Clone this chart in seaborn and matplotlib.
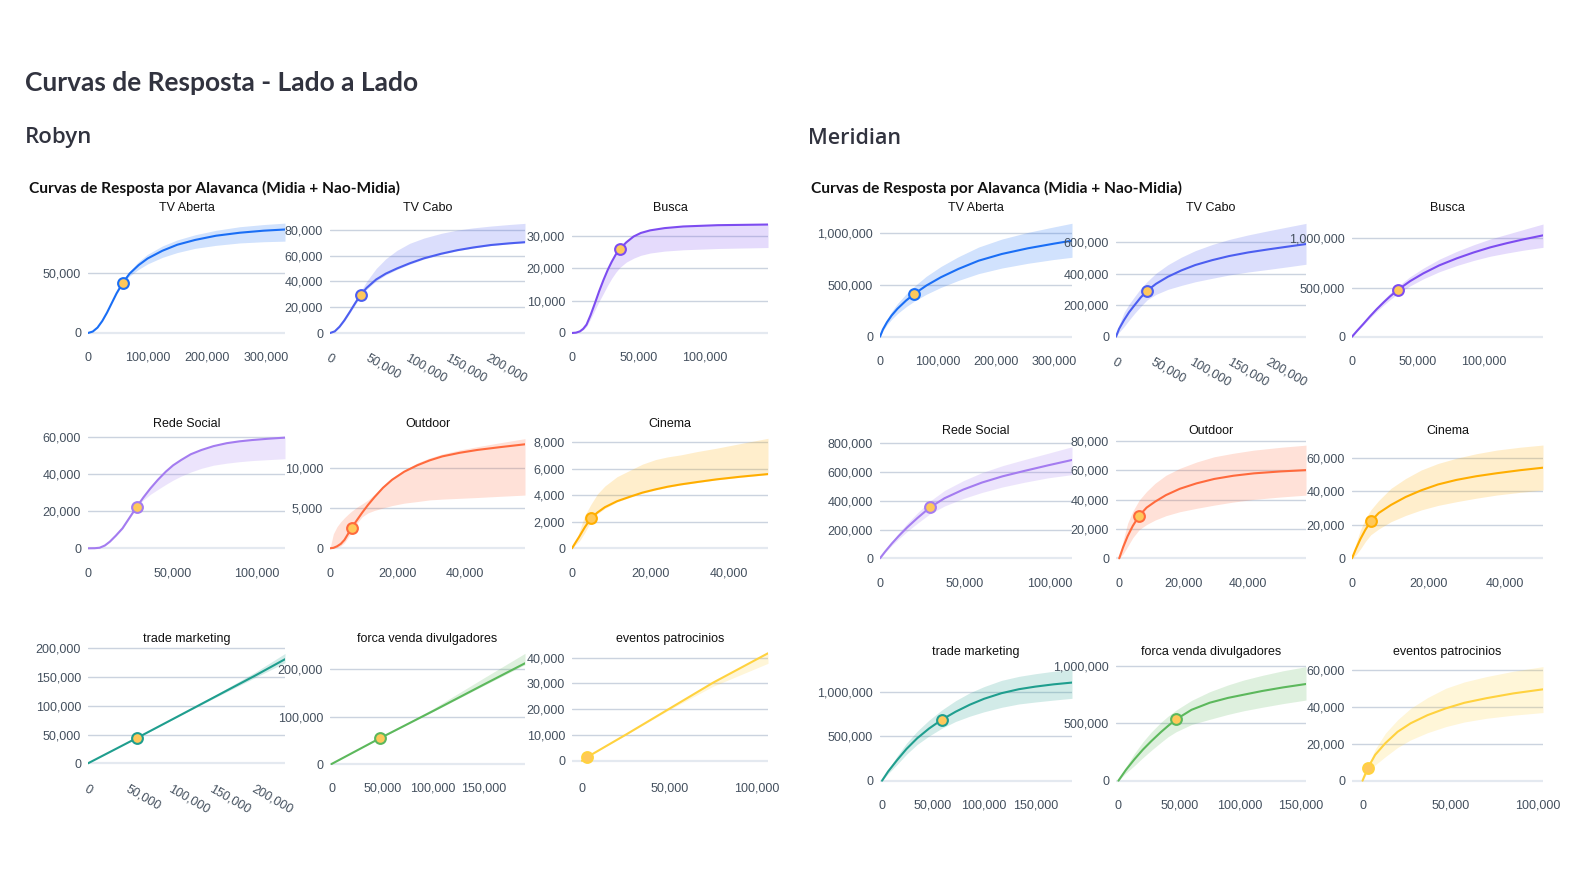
import matplotlib
matplotlib.use('Agg')
import matplotlib.pyplot as plt
import seaborn as sns

# ---------------- dados: Robyn ----------------
rb_aberta_x = [0, 8000, 16000, 24000, 32000, 40000, 48000, 58000, 70000, 85000, 100000, 125000, 150000, 180000, 215000, 255000, 295000, 331000]
rb_aberta_y = [0, 1200, 4500, 10000, 17000, 25000, 33000, 41500, 49500, 56500, 62000, 68500, 73500, 77500, 81000, 83500, 85200, 86200]
rb_aberta_lo = [0, 1200, 4500, 10000, 17000, 25000, 32500, 40700, 47500, 53000, 57500, 63000, 67000, 70500, 73000, 75000, 76000, 76500]
rb_aberta_hi = [0, 1200, 4500, 10000, 17000, 25000, 33000, 42300, 51500, 59500, 65500, 72500, 77500, 81800, 85500, 88500, 90300, 91500]

rb_cabo_x = [0, 6000, 12000, 18000, 25000, 32000, 38400, 46000, 58000, 70000, 84000, 100000, 118000, 140000, 160000, 180000, 202000, 225000, 245000]
rb_cabo_y = [0, 1300, 4900, 9800, 16500, 23500, 29500, 35000, 41500, 46000, 50000, 54000, 57900, 61500, 64200, 66300, 68200, 69500, 70400]
rb_cabo_lo = [0, 1100, 4400, 9000, 15500, 22300, 28300, 33800, 40300, 45000, 49200, 53300, 57300, 61000, 63800, 65900, 67800, 69100, 70000]
rb_cabo_hi = [0, 1500, 5400, 10800, 18000, 25500, 32000, 40000, 50000, 57500, 64000, 69500, 73600, 77300, 79800, 81500, 82900, 84100, 85000]

rb_busca_x = [0, 3000, 6000, 8500, 11000, 14000, 17400, 20500, 23800, 27000, 30000, 33000, 36000, 41000, 46500, 52000, 59000, 70000, 84000, 110000, 148000]
rb_busca_y = [0, 100, 500, 1300, 2600, 5500, 9300, 12900, 16400, 19500, 22000, 24200, 25900, 28000, 29800, 30900, 31700, 32400, 32900, 33300, 33500]
rb_busca_lo = [0, 80, 400, 1000, 2000, 4300, 7200, 9800, 12300, 14800, 16900, 18700, 20200, 21900, 23100, 24000, 24700, 25300, 25700, 26100, 26400]
rb_busca_hi = [0, 110, 550, 1400, 2700, 5700, 9500, 13100, 16600, 19700, 22200, 24400, 26100, 28200, 30000, 31100, 31900, 32600, 33100, 33500, 33700]

rb_social_x = [0, 4000, 6900, 10000, 13000, 16500, 20500, 24500, 29000, 33000, 37100, 41500, 46200, 50500, 55300, 61000, 67300, 74500, 82400, 90000, 97500, 107000, 117000]
rb_social_y = [0, 50, 300, 1500, 3600, 6800, 10800, 16300, 22500, 27600, 32400, 37000, 41400, 44800, 47700, 50800, 53100, 55200, 56800, 57800, 58500, 59200, 59800]
rb_social_lo = [0, 40, 250, 1400, 3400, 6500, 10400, 15800, 22200, 26200, 29200, 31800, 34500, 36800, 39000, 41200, 43200, 44900, 46000, 46800, 47400, 47900, 48400]
rb_social_hi = [0, 60, 350, 1600, 3800, 7100, 11200, 16700, 22900, 28000, 32800, 37400, 41800, 45200, 48100, 51100, 53400, 55500, 57100, 58100, 58800, 59500, 60100]

rb_outdoor_x = [0, 1000, 2100, 3200, 4300, 5300, 6400, 8000, 9500, 11300, 13200, 15700, 18400, 22000, 25900, 29500, 33300, 38500, 43700, 50500, 57800]
rb_outdoor_y = [0, 50, 250, 550, 1050, 1750, 2550, 3500, 4400, 5400, 6350, 7500, 8500, 9500, 10300, 10900, 11400, 11850, 12200, 12550, 12900]
rb_outdoor_lo = [0, 0, 100, 300, 700, 1300, 2000, 3100, 3900, 4400, 4700, 5000, 5300, 5600, 5800, 6000, 6100, 6200, 6300, 6450, 6600]
rb_outdoor_hi = [0, 1800, 2700, 3300, 3800, 4200, 4600, 5100, 5500, 6000, 6700, 7700, 8700, 9700, 10600, 11200, 11700, 12200, 12600, 13100, 13600]

rb_cinema_x = [0, 1000, 1900, 3300, 4800, 6500, 8400, 11500, 14900, 18000, 21400, 24500, 27800, 32000, 36900, 43000, 50100]
rb_cinema_y = [0, 480, 900, 1600, 2250, 2700, 3100, 3550, 3900, 4200, 4450, 4650, 4820, 5000, 5200, 5400, 5600]
rb_cinema_lo = [0, 300, 550, 1200, 2000, 2600, 3000, 3500, 3850, 4150, 4400, 4600, 4780, 4960, 5160, 5360, 5560]
rb_cinema_hi = [0, 500, 1300, 2500, 3300, 4100, 4700, 5400, 5900, 6350, 6700, 6900, 7050, 7300, 7550, 7900, 8300]

rb_trade_x = [0, 59000, 100000, 150000, 200000, 235000]
rb_trade_y = [0, 44500, 76000, 114500, 153000, 181000]
rb_trade_lo = [0, 44300, 75500, 113000, 149500, 175000]
rb_trade_hi = [0, 44700, 77000, 117500, 159000, 191000]

rb_forca_x = [0, 47500, 100000, 150000, 190600]
rb_forca_y = [0, 54300, 112000, 168000, 213000]
rb_forca_lo = [0, 54000, 111000, 166000, 210000]
rb_forca_hi = [0, 54600, 117000, 182000, 234000]

rb_eventos_x = [0, 2900, 25000, 50000, 75000, 106400]
rb_eventos_y = [0, 1400, 10100, 20200, 30300, 41700]
rb_eventos_lo = [0, 1400, 10000, 19800, 28900, 37800]
rb_eventos_hi = [0, 1400, 10150, 20300, 30400, 41900]

rb_ponto_x = [58000, 38400, 36000, 29000, 6400, 4800, 59000, 47500, 2900]
rb_ponto_y = [41500, 29500, 25900, 22500, 2550, 2250, 44500, 54300, 1400]

# ---------------- dados: Meridian ----------------
mr_aberta_x = [0, 5000, 12000, 20000, 30000, 45000, 59000, 80000, 105000, 135000, 170000, 210000, 255000, 300000, 331000]
mr_aberta_y = [0, 70000, 140000, 205000, 270000, 350000, 413000, 495000, 575000, 655000, 735000, 800000, 855000, 900000, 929000]
mr_aberta_lo = [0, 57000, 115000, 168000, 223000, 290000, 343000, 411000, 477000, 544000, 610000, 664000, 710000, 747000, 768000]
mr_aberta_hi = [0, 83000, 166000, 243000, 320000, 413000, 487000, 585000, 679000, 773000, 867000, 944000, 1009000, 1062000, 1097000]

mr_cabo_x = [0, 4000, 10500, 17000, 24000, 32000, 40400, 52000, 67500, 85000, 103000, 125000, 147000, 172000, 199000, 225000, 247000]
mr_cabo_y = [0, 50000, 106000, 155000, 199000, 248000, 291000, 335000, 380000, 420000, 454000, 485000, 511000, 534000, 554000, 572000, 587000]
mr_cabo_lo = [0, 28000, 64000, 105000, 147000, 191000, 233000, 268000, 300000, 325000, 348000, 370000, 391000, 410000, 427000, 444000, 459000]
mr_cabo_hi = [0, 75000, 154000, 206000, 253000, 305000, 349000, 402000, 456000, 504000, 545000, 584000, 616000, 645000, 672000, 697000, 718000]

mr_busca_x = [0, 4000, 8600, 13500, 18700, 24000, 28800, 34900, 44000, 54000, 66000, 79400, 92000, 104600, 117000, 130000, 144500]
mr_busca_y = [0, 62000, 130000, 205000, 280000, 350000, 410000, 478000, 565000, 644000, 725000, 797000, 856000, 908000, 950000, 990000, 1030000]
mr_busca_lo = [0, 57000, 120000, 189000, 258000, 322000, 377000, 440000, 517000, 588000, 660000, 724000, 775000, 818000, 850000, 880000, 908000]
mr_busca_hi = [0, 67000, 140000, 221000, 302000, 378000, 443000, 514000, 610000, 697000, 787000, 868000, 934000, 993000, 1040000, 1090000, 1145000]

mr_social_x = [0, 3000, 7000, 11000, 16000, 22000, 29500, 38000, 49000, 60000, 72000, 85000, 99000, 113000]
mr_social_y = [0, 46000, 103000, 155000, 215000, 280000, 355000, 418000, 478000, 527000, 570000, 608000, 647000, 684000]
mr_social_lo = [0, 40000, 90000, 135000, 187000, 244000, 310000, 364000, 416000, 458000, 496000, 529000, 560000, 582000]
mr_social_hi = [0, 52000, 117000, 176000, 243000, 316000, 399000, 472000, 540000, 596000, 644000, 687000, 731000, 776000]

mr_outdoor_x = [0, 1200, 2600, 4200, 6200, 8500, 11100, 14500, 18800, 24000, 29500, 35500, 41800, 50000, 58000]
mr_outdoor_y = [0, 7500, 15000, 22000, 29000, 34500, 38500, 43000, 47300, 51000, 54000, 56200, 57800, 59100, 60000]
mr_outdoor_lo = [0, 3000, 8000, 14000, 19500, 23000, 26000, 29000, 31700, 34000, 36200, 38300, 40100, 41700, 43000]
mr_outdoor_hi = [0, 12000, 23800, 32000, 39600, 45500, 51000, 56500, 61200, 65500, 69100, 71500, 73600, 75500, 77000]

mr_cinema_x = [0, 1000, 2200, 3500, 4900, 7000, 10200, 14000, 18100, 22500, 27300, 32500, 37900, 44000, 50000]
mr_cinema_y = [0, 5500, 11500, 17000, 22000, 27000, 31800, 36500, 40500, 44000, 46700, 48900, 50700, 52500, 54000]
mr_cinema_lo = [0, 2000, 5500, 10000, 14000, 17500, 21800, 25500, 28800, 31500, 33700, 35800, 37700, 39300, 40700]
mr_cinema_hi = [0, 8500, 16900, 23500, 28800, 34500, 41700, 47500, 52600, 56500, 59600, 62300, 64500, 66200, 67500]

mr_trade_x = [0, 6000, 14800, 24000, 34400, 46000, 58500, 72000, 86000, 100000, 117000, 134000, 150000, 168000, 186000]
mr_trade_y = [0, 105000, 234000, 360000, 480000, 590000, 690000, 780000, 860000, 927000, 990000, 1035000, 1064000, 1090000, 1110000]
mr_trade_lo = [0, 80000, 185000, 300000, 410000, 505000, 593000, 670000, 730000, 780000, 830000, 868000, 890000, 912000, 932000]
mr_trade_hi = [0, 125000, 280000, 425000, 560000, 685000, 800000, 905000, 995000, 1065000, 1135000, 1180000, 1210000, 1238000, 1260000]

mr_forca_x = [0, 6000, 13000, 20000, 27000, 35000, 41000, 47400, 60000, 75000, 90000, 103000, 118000, 135000, 154000]
mr_forca_y = [0, 92000, 185000, 270000, 345000, 425000, 480000, 535000, 618000, 680000, 722000, 750000, 782000, 813000, 843000]
mr_forca_lo = [0, 65000, 130000, 200000, 265000, 335000, 385000, 427000, 490000, 535000, 578000, 610000, 640000, 672000, 703000]
mr_forca_hi = [0, 118000, 236000, 338000, 425000, 510000, 565000, 616000, 700000, 776000, 835000, 878000, 918000, 958000, 994000]

mr_eventos_x = [0, 2900, 7200, 13000, 20000, 27400, 37000, 47500, 58000, 70600, 86000, 102800]
mr_eventos_y = [0, 6700, 14000, 20300, 26500, 31100, 35500, 39200, 42200, 44700, 47300, 49500]
mr_eventos_lo = [0, 4500, 8500, 13000, 18000, 22100, 26000, 29300, 31800, 33800, 35500, 36900]
mr_eventos_hi = [0, 7500, 17000, 25700, 33000, 39200, 45000, 50100, 53500, 56400, 59300, 61800]

mr_ponto_x = [59000, 40400, 34900, 29500, 6200, 4900, 58500, 47400, 2900]
mr_ponto_y = [413000, 291000, 478000, 355000, 29000, 22000, 690000, 535000, 6700]

# ---------------- canais, cores, ticks ----------------
canais = ['TV Aberta', 'TV Cabo', 'Busca', 'Rede Social', 'Outdoor', 'Cinema',
          'trade marketing', 'forca venda divulgadores', 'eventos patrocinios']
cores = ['#1a6ef5', '#4c5ef0', '#7d4cf0', '#a47cf0', '#ff6a3d', '#ffae00',
         '#1f9e8e', '#5cb85c', '#ffd23f']

rb_xticks = [[0, 100000, 200000, 300000], [0, 50000, 100000, 150000, 200000], [0, 50000, 100000],
             [0, 50000, 100000], [0, 20000, 40000], [0, 20000, 40000],
             [0, 50000, 100000, 150000, 200000], [0, 50000, 100000, 150000], [0, 50000, 100000]]
rb_yticks = [[0, 50000], [0, 20000, 40000, 60000, 80000], [0, 10000, 20000, 30000],
             [0, 20000, 40000, 60000], [0, 5000, 10000], [0, 2000, 4000, 6000, 8000],
             [0, 50000, 100000, 150000, 200000], [0, 100000, 200000], [0, 10000, 20000, 30000, 40000]]
mr_xticks = [[0, 100000, 200000, 300000], [0, 50000, 100000, 150000, 200000], [0, 50000, 100000],
             [0, 50000, 100000], [0, 20000, 40000], [0, 20000, 40000],
             [0, 50000, 100000, 150000], [0, 50000, 100000, 150000], [0, 50000, 100000]]
mr_yticks = [[0, 500000, 1000000], [0, 200000, 400000, 600000], [0, 500000, 1000000],
             [0, 200000, 400000, 600000, 800000], [0, 20000, 40000, 60000, 80000], [0, 20000, 40000, 60000],
             [0, 500000, 1000000], [0, 500000, 1000000], [0, 20000, 40000, 60000]]

rb_curvas = [(rb_aberta_x, rb_aberta_y, rb_aberta_lo, rb_aberta_hi),
             (rb_cabo_x, rb_cabo_y, rb_cabo_lo, rb_cabo_hi),
             (rb_busca_x, rb_busca_y, rb_busca_lo, rb_busca_hi),
             (rb_social_x, rb_social_y, rb_social_lo, rb_social_hi),
             (rb_outdoor_x, rb_outdoor_y, rb_outdoor_lo, rb_outdoor_hi),
             (rb_cinema_x, rb_cinema_y, rb_cinema_lo, rb_cinema_hi),
             (rb_trade_x, rb_trade_y, rb_trade_lo, rb_trade_hi),
             (rb_forca_x, rb_forca_y, rb_forca_lo, rb_forca_hi),
             (rb_eventos_x, rb_eventos_y, rb_eventos_lo, rb_eventos_hi)]
mr_curvas = [(mr_aberta_x, mr_aberta_y, mr_aberta_lo, mr_aberta_hi),
             (mr_cabo_x, mr_cabo_y, mr_cabo_lo, mr_cabo_hi),
             (mr_busca_x, mr_busca_y, mr_busca_lo, mr_busca_hi),
             (mr_social_x, mr_social_y, mr_social_lo, mr_social_hi),
             (mr_outdoor_x, mr_outdoor_y, mr_outdoor_lo, mr_outdoor_hi),
             (mr_cinema_x, mr_cinema_y, mr_cinema_lo, mr_cinema_hi),
             (mr_trade_x, mr_trade_y, mr_trade_lo, mr_trade_hi),
             (mr_forca_x, mr_forca_y, mr_forca_lo, mr_forca_hi),
             (mr_eventos_x, mr_eventos_y, mr_eventos_lo, mr_eventos_hi)]

# ---------------- layout (pixels) ----------------
W, H = 1581, 892
rb_cols = [(88, 285), (330, 525), (572, 768)]
rb_rows = [(220, 336), (433, 552), (645, 767)]
mr_cols = [(880, 1072), (1116, 1306), (1352, 1543)]
mr_rows = [(220, 340), (440, 562), (662, 784)]
rb_xmin = [0, 0, 0, 0, 0, 0, 0, -1500, -5700]
mr_xmin = [0, 0, 0, 0, -1000, 0, -2000, -2000, -6000]
rb_ylim = [(-2500, 94100), (-2300, 87600), (-930, 34900), (-2000, 62300), (-460, 14300),
           (-280, 8700), (-6400, 205700), (-6300, 251600), (-2400, 44900)]
mr_ylim = [(-31900, 1128600), (-20900, 739400), (-33500, 1186000), (-25700, 823000), (-2500, 80500),
           (-2200, 70500), (-37300, 1342700), (-28800, 1034800), (-1800, 64300)]
rb_titulo_y = [208, 424, 639]
mr_titulo_y = [208, 431, 652]
rotacao = [False, True, False, False, False, False, True, False, False]
mr_rotacao = [False, True, False, False, False, False, False, False, False]

sns.set_theme(style='white')
plt.rcParams['font.family'] = ['Liberation Sans', 'DejaVu Sans']

fig = plt.figure(figsize=(W / 100, H / 100), dpi=100)
fig.patch.set_facecolor('white')

txt = '#31333F'
fig.text(25 / W, 1 - 83 / H, 'Curvas de Resposta - Lado a Lado', fontsize=19, fontweight='bold',
         family=['Lato', 'DejaVu Sans'], color=txt, va='center')
fig.text(25 / W, 1 - 138 / H, 'Robyn', fontsize=16, fontweight='semibold', family=['Open Sans', 'DejaVu Sans'],
         color=txt, va='center')
fig.text(808 / W, 1 - 138 / H, 'Meridian', fontsize=15.5, fontweight='semibold', family=['Open Sans', 'DejaVu Sans'],
         color=txt, va='center')
for xx in [29, 811]:
    fig.text(xx / W, 1 - 188 / H, 'Curvas de Resposta por Alavanca (Midia + Nao-Midia)', fontsize=11.2,
             fontweight='bold', family=['Lato', 'DejaVu Sans'], color='#111111', va='center')


def desenha(curva, ponto, cor, box, xmin, ylim, xt, yt, rot, titulo, titulo_y):
    l, r = box[0]
    t, b = box[1]
    ax = fig.add_axes([l / W, 1 - b / H, (r - l) / W, (b - t) / H])
    x, y, lo, hi = curva
    ax.fill_between(x, lo, hi, color=cor, alpha=0.2, linewidth=0)
    sns.lineplot(x=x, y=y, ax=ax, color=cor, linewidth=1.5, errorbar=None)
    sns.scatterplot(x=[ponto[0]], y=[ponto[1]], ax=ax, s=60, color='#ffc85a', edgecolor=cor,
                    linewidth=1.5, zorder=5, clip_on=False)
    ax.set_xlim(xmin, x[-1])
    ax.set_ylim(*ylim)
    for s in ax.spines.values():
        s.set_visible(False)
    ax.set_facecolor('none')
    ax.set_yticks(yt)
    ax.set_yticklabels([f'{v:,.0f}' for v in yt])
    ax.set_xticks(xt)
    if rot:
        ax.set_xticklabels([f'{v:,.0f}' for v in xt], rotation=-30, ha='left', rotation_mode='anchor')
    else:
        ax.set_xticklabels([f'{v:,.0f}' for v in xt])
    ax.tick_params(axis='both', length=0, labelsize=9, colors='#44505e')
    ax.tick_params(axis='x', pad=11.5)
    ax.tick_params(axis='y', pad=5)
    for v in yt:
        if v == 0:
            ax.axhline(0, color='#e4e9f0', linewidth=1.6, zorder=0)
        else:
            ax.axhline(v, color='#cbd3df', linewidth=1.0, zorder=0)
    ax.set_xlabel('')
    ax.set_ylabel('')
    fig.text((l + r) / 2 / W, 1 - titulo_y / H, titulo, fontsize=9, color='#111111',
             ha='center', va='center')


for i in range(9):
    lin, col = divmod(i, 3)
    desenha(rb_curvas[i], (rb_ponto_x[i], rb_ponto_y[i]), cores[i], (rb_cols[col], rb_rows[lin]),
            rb_xmin[i], rb_ylim[i], rb_xticks[i], rb_yticks[i], rotacao[i], canais[i], rb_titulo_y[lin])
    desenha(mr_curvas[i], (mr_ponto_x[i], mr_ponto_y[i]), cores[i], (mr_cols[col], mr_rows[lin]),
            mr_xmin[i], mr_ylim[i], mr_xticks[i], mr_yticks[i], mr_rotacao[i], canais[i], mr_titulo_y[lin])

fig.savefig('out.png', dpi=100, facecolor='white')
